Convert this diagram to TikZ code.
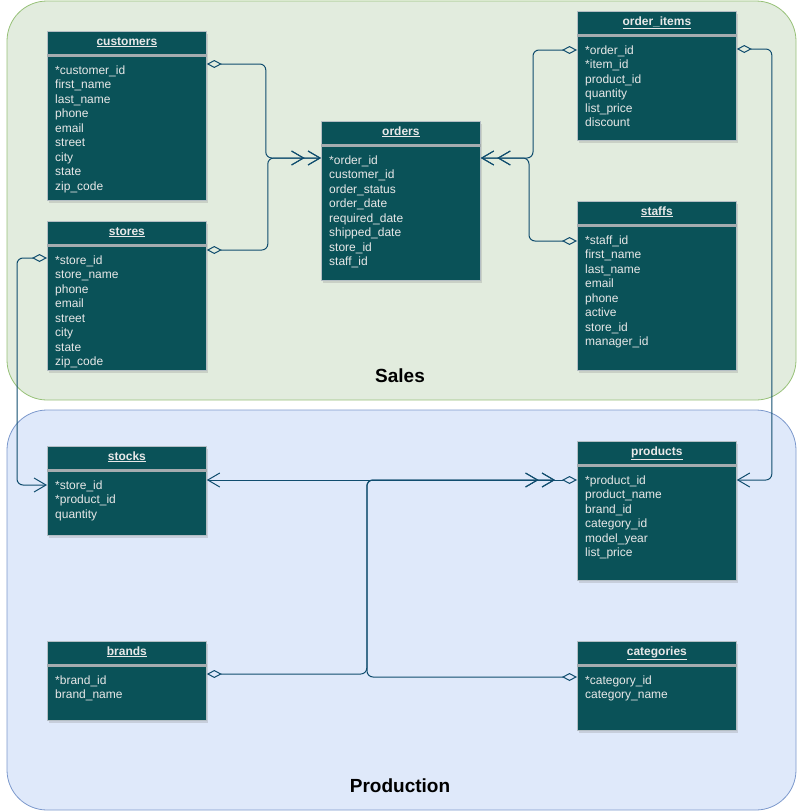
\documentclass[tikz,border=0pt]{standalone}
\usepackage{fontspec}
\setmainfont{Liberation Sans}
\usetikzlibrary{arrows.meta,shadows,decorations.markings}

\definecolor{salesfill}{RGB}{226,236,222}
\definecolor{salesline}{RGB}{151,193,120}
\definecolor{prodfill}{RGB}{223,233,250}
\definecolor{prodline}{RGB}{124,153,204}
\definecolor{tblfill}{RGB}{10,82,88}
\definecolor{tbledge}{RGB}{180,190,196}
\definecolor{tblsep}{RGB}{165,172,175}
\definecolor{tbltext}{RGB}{232,232,232}
\definecolor{erblue}{RGB}{16,77,110}

\tikzset{
  group/.style={rounded corners=40pt, line width=0.8pt},
  grouplabel/.style={font=\bfseries\fontsize{19}{22}\selectfont},
  erbox/.style={draw=tbledge, fill=tblfill, line width=0.8pt, minimum width=159pt,
    anchor=north west, inner sep=0pt,
    drop shadow={shadow xshift=2pt, shadow yshift=-2.5pt, opacity=0.25}},
  ersep/.style={draw=tblsep, line width=2.5pt},
  ertitle/.style={text=tbltext, font=\bfseries\fontsize{12}{14}\selectfont, anchor=base, inner sep=0pt},
  errows/.style={text=tbltext, font=\fontsize{12}{14.5}\selectfont, align=left,
    anchor=north west, inner sep=0pt},
  rel/.style={color=erblue, line width=1pt, rounded corners=6pt,
    {Diamond[open,length=15pt,width=8pt]}-{Straight Barb[length=12pt,width=14pt]}},
  twobarbs/.style={postaction={decorate, decoration={markings,
    mark=at position -16.5pt with {\arrow{Straight Barb[length=12pt,width=14pt]}}}}}
}

% name, x, y, height, title, rows
\newcommand{\ertable}[6]{%
  \node[erbox, minimum height=#4] (#1) at (#2,#3) {};
  \draw[ersep] ([yshift=-24.5pt]#1.north west) -- ([yshift=-24.5pt]#1.north east);
  \node[ertitle] (#1-title) at ([yshift=-14pt]#1.north) {\underline{#5}};
  \node[errows] (#1-rows) at ([xshift=8pt,yshift=-34.5pt]#1.north west) {#6};
}

\begin{document}
\begin{tikzpicture}[x=1pt, y=-1pt]
  \useasboundingbox (0,0) rectangle (797,811);

  % groups
  \draw[group, fill=salesfill, draw=salesline] (7,1) rectangle (796,400);
  \draw[group, fill=prodfill, draw=prodline] (7,410) rectangle (796,810);
  \node[grouplabel] (sales) at (400,376) {Sales};
  \node[grouplabel] (production) at (400,786) {Production};

  % sales tables
  \ertable{customers}{47}{31}{169}{customers}{*customer\_id\\first\_name\\last\_name\\phone\\email\\street\\city\\state\\zip\_code}
  \ertable{stores}{47}{221}{149}{stores}{*store\_id\\store\_name\\phone\\email\\street\\city\\state\\zip\_code}
  \ertable{orders}{321}{121}{159}{orders}{*order\_id\\customer\_id\\order\_status\\order\_date\\required\_date\\shipped\_date\\store\_id\\staff\_id}
  \ertable{order_items}{577}{11}{129}{order\_items}{*order\_id\\*item\_id\\product\_id\\quantity\\list\_price\\discount}
  \ertable{staffs}{577}{201}{169}{staffs}{*staff\_id\\first\_name\\last\_name\\email\\phone\\active\\store\_id\\manager\_id}

  % production tables
  \ertable{stocks}{47}{446}{89}{stocks}{*store\_id\\*product\_id\\quantity}
  \ertable{products}{577}{441}{139}{products}{*product\_id\\product\_name\\brand\_id\\category\_id\\model\_year\\list\_price}
  \ertable{brands}{47}{641}{79}{brands}{*brand\_id\\brand\_name}
  \ertable{categories}{577}{641}{89}{categories}{*category\_id\\category\_name}

  \coordinate (prodin) at ([xshift=-22pt,yshift=-39pt]products.north west);

  % relations
  \draw[rel, twobarbs] ([yshift=-33pt]customers.north east) -- ++(59,0) |- ([yshift=-37pt]orders.north west);
  \draw[rel, twobarbs] ([yshift=-29pt]stores.north east) -- ++(61,0) |- ([yshift=-37pt]orders.north west);
  \draw[rel, twobarbs] ([yshift=-39pt]order_items.north west) -- ++(-44,0) |- ([yshift=-37pt]orders.north east);
  \draw[rel, twobarbs] ([yshift=-40pt]staffs.north west) -- ++(-48,0) |- ([yshift=-37pt]orders.north east);
  \draw[rel] ([yshift=-38pt]order_items.north east) -- ++(35,0) |- ([yshift=-39pt]products.north east);
  \draw[rel] ([yshift=-37pt]stores.north west) -- ++(-30,0) |- ([yshift=-39pt]stocks.north west);
  \draw[rel] ([yshift=-39pt]products.north west) -- ([yshift=-34pt]stocks.north east);
  \draw[rel, twobarbs] ([yshift=-33pt]brands.north east) -- ++(160,0) |- (prodin);
  \draw[rel, twobarbs] ([yshift=-36pt]categories.north west) -- ++(-210,0) |- (prodin);
\end{tikzpicture}
\end{document}
